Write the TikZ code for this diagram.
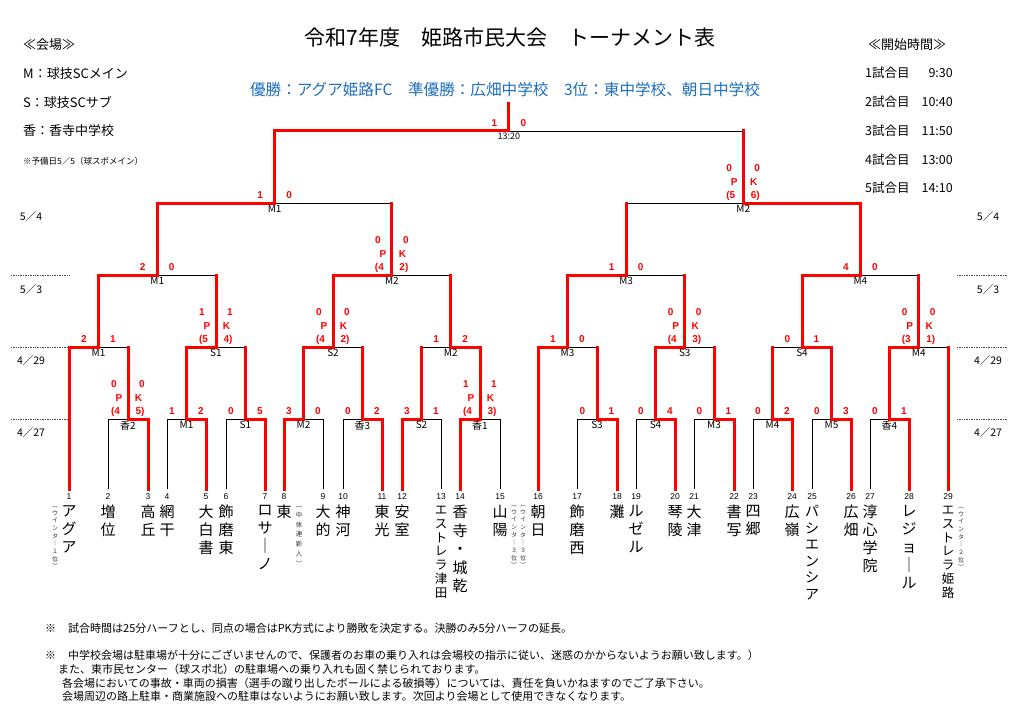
\documentclass[tikz,border=0pt]{standalone}
\usepackage{fontspec}
\setmainfont{Noto Sans CJK JP}
\newfontfamily\lat{Liberation Sans}
\usetikzlibrary{calc}
\definecolor{ttlblue}{RGB}{30,110,190}
\newcommand\mgame[5]{%
  \draw[thinl] (#2 |- #1) -- (#3 |- #1);
  \draw[#4] (#3) -- (#3 |- #1);
  \draw[winl] (#2) |- (#1);
  \node[mlab] (#1-lab) at ([yshift=-1pt]#1) {#5};}
\newcommand\scores[3]{%
  \node[scr] (#1-sl) at ([xshift=-14.5pt,yshift=7.5pt]#1) {#2};
  \node[scr] (#1-sr) at ([xshift=14.5pt,yshift=7.5pt]#1) {#3};}
\newcommand\pkscore[7]{%
  \node[scr] (#1-a) at ([xshift=-14pt,yshift=35pt]#1) {#2};
  \node[scr] (#1-b) at ([xshift=-9pt,yshift=21pt]#1) {#3};
  \node[scr] (#1-c) at ([xshift=-12.5pt,yshift=7.5pt]#1) {#4};
  \node[scr] (#1-d) at ([xshift=14pt,yshift=35pt]#1) {#5};
  \node[scr] (#1-e) at ([xshift=10.5pt,yshift=21pt]#1) {#6};
  \node[scr] (#1-f) at ([xshift=12pt,yshift=7.5pt]#1) {#7};}
\begin{document}
\begin{tikzpicture}[x=1pt,y=-1pt,
  thinl/.style={draw=black,line width=0.8pt},
  winl/.style={draw=red,line width=3pt,line cap=rect},
  mlab/.style={font=\fontsize{10}{11}\selectfont,inner sep=0.5pt,anchor=north},
  scr/.style={font=\lat\bfseries\fontsize{10}{11}\selectfont,text=red,inner sep=0pt},
  num/.style={font=\lat\fontsize{8.5}{9}\selectfont,inner sep=0pt},
  tname/.style={font=\fontsize{15}{18}\selectfont,align=center,inner sep=0pt,anchor=north},
  tnamel/.style={font=\fontsize{12.5}{13.8}\selectfont,align=center,inner sep=0pt,anchor=north},
  vnote/.style={font=\fontsize{6}{7.7}\selectfont,align=center,inner sep=0pt,anchor=north,text=black!80},
  legend/.style={font=\fontsize{13}{14}\selectfont,anchor=west,inner sep=0pt},
  tlegend/.style={font=\fontsize{12.5}{14}\selectfont,inner sep=0pt},
  datel/.style={font=\fontsize{10.5}{12}\selectfont,inner sep=0pt},
  foot/.style={font=\fontsize{11}{12}\selectfont,anchor=west,inner sep=0pt},
  sep/.style={densely dotted,draw=black!70,line width=0.7pt}]
\fill[white] (0,0) rectangle (1016,714);
\useasboundingbox (0,0) rectangle (1016,714);

% header
\node[font=\fontsize{21}{25}\selectfont,inner sep=0pt] (title) at (510,38) {令和7年度　姫路市民大会　トーナメント表};
\node[font=\fontsize{15.6}{18}\selectfont,text=ttlblue,inner sep=0pt] (champ) at (505,90) {優勝：アグア姫路FC　準優勝：広畑中学校　3位：東中学校、朝日中学校};

% left legend
\node[legend] (lg0) at (23,45) {≪会場≫};
\node[legend] (lg1) at (23,74) {M：球技SCメイン};
\node[legend] (lg2) at (23,102) {S：球技SCサブ};
\node[legend] (lg3) at (23,131) {香：香寺中学校};
\node[legend,font=\fontsize{8.5}{10}\selectfont] (lg4) at (23,161) {※予備日5／5（球スポメイン）};

% right legend
\node[tlegend,anchor=west,font=\fontsize{13}{14}\selectfont] (tl0) at (868,45) {≪開始時間≫};
\foreach \t/\h [count=\i] in {73/9:30,102/10:40,131/11:50,160/13:00,188/14:10}{
  \node[tlegend,anchor=west] (tg\i) at (865,\t) {{\i}試合目};
  \node[tlegend,anchor=east] (th\i) at (953,\t) {\h};
}

% dates and separators
\foreach \d/\t [count=\i] in {5／4/217,5／3/290,4／29/361,4／27/433}{
  \node[datel] (dl\i) at (31,\t) {\d};
  \node[datel] (dr\i) at (988,\t) {\d};
}
\foreach \t in {275,347,419}{
  \draw[sep] (11,\t) -- (70,\t);
  \draw[sep] (957,\t) -- (1007,\t);
}

% team positions
\foreach \x [count=\i] in {69,108,148,167,206,226,265,284,323,343,382,402,441,460,500,538,577,617,636,675,694,734,753,792,812,851,870,909,948}{
  \coordinate (b\i) at (\x,489);
  \node[num] (n\i) at (\x,497) {\i};
}

% match points
\coordinate (r1a) at (128,419);
\coordinate (r1b) at (186.5,419);
\coordinate (r1c) at (245.5,419);
\coordinate (r1d) at (303.5,419);
\coordinate (r1e) at (362.5,419);
\coordinate (r1f) at (421.5,419);
\coordinate (r1g) at (480,419);
\coordinate (r1h) at (597,419);
\coordinate (r1i) at (655.5,419);
\coordinate (r1j) at (714,419);
\coordinate (r1k) at (772.5,419);
\coordinate (r1l) at (831.5,419);
\coordinate (r1m) at (889.5,419);
\coordinate (r2a) at (98.5,347);
\coordinate (r2b) at (216,347);
\coordinate (r2c) at (333,347);
\coordinate (r2d) at (450.75,347);
\coordinate (r2e) at (567.5,347);
\coordinate (r2f) at (684.75,347);
\coordinate (r2g) at (802,347);
\coordinate (r2h) at (918.75,347);
\coordinate (r3a) at (157.25,275);
\coordinate (r3b) at (391.9,275);
\coordinate (r3c) at (626.1,275);
\coordinate (r3d) at (860.4,275);
\coordinate (r4a) at (274.6,203);
\coordinate (r4b) at (743.25,203);
\coordinate (fin) at (508.9,131);
\coordinate (fintop) at (508.9,104);

% round 1 (4/27)
\mgame{r1a}{b3}{b2}{thinl}{香2}  \pkscore{r1a}{0}{P}{(4}{0}{K}{5)}
\mgame{r1b}{b5}{b4}{thinl}{M1}   \scores{r1b}{1}{2}
\mgame{r1c}{b7}{b6}{thinl}{S1}   \scores{r1c}{0}{5}
\mgame{r1d}{b8}{b9}{thinl}{M2}   \scores{r1d}{3}{0}
\mgame{r1e}{b11}{b10}{thinl}{香3} \scores{r1e}{0}{2}
\mgame{r1f}{b12}{b13}{thinl}{S2} \scores{r1f}{3}{1}
\mgame{r1g}{b14}{b15}{thinl}{香1} \pkscore{r1g}{1}{P}{(4}{1}{K}{3)}
\mgame{r1h}{b18}{b17}{thinl}{S3} \scores{r1h}{0}{1}
\mgame{r1i}{b20}{b19}{thinl}{S4} \scores{r1i}{0}{4}
\mgame{r1j}{b22}{b21}{thinl}{M3} \scores{r1j}{0}{1}
\mgame{r1k}{b24}{b23}{thinl}{M4} \scores{r1k}{0}{2}
\mgame{r1l}{b26}{b25}{thinl}{M5} \scores{r1l}{0}{3}
\mgame{r1m}{b28}{b27}{thinl}{香4} \scores{r1m}{0}{1}

% round 2 (4/29)
\mgame{r2a}{b1}{r1a}{winl}{M1}   \scores{r2a}{2}{1}
\mgame{r2b}{r1b}{r1c}{winl}{S1}  \pkscore{r2b}{1}{P}{(5}{1}{K}{4)}
\mgame{r2c}{r1d}{r1e}{winl}{S2}  \pkscore{r2c}{0}{P}{(4}{0}{K}{2)}
\mgame{r2d}{r1g}{r1f}{winl}{M2}  \scores{r2d}{1}{2}
\mgame{r2e}{b16}{r1h}{winl}{M3}  \scores{r2e}{1}{0}
\mgame{r2f}{r1i}{r1j}{winl}{S3}  \pkscore{r2f}{0}{P}{(4}{0}{K}{3)}
\mgame{r2g}{r1l}{r1k}{winl}{S4}  \scores{r2g}{0}{1}
\mgame{r2h}{r1m}{b29}{winl}{M4}  \pkscore{r2h}{0}{P}{(3}{0}{K}{1)}

% round 3 (5/3)
\mgame{r3a}{r2a}{r2b}{winl}{M1}  \scores{r3a}{2}{0}
\mgame{r3b}{r2c}{r2d}{winl}{M2}  \pkscore{r3b}{0}{P}{(4}{0}{K}{2)}
\mgame{r3c}{r2e}{r2f}{winl}{M3}  \scores{r3c}{1}{0}
\mgame{r3d}{r2g}{r2h}{winl}{M4}  \scores{r3d}{4}{0}

% round 4 (5/4)
\mgame{r4a}{r3a}{r3b}{winl}{M1}  \scores{r4a}{1}{0}
\mgame{r4b}{r3d}{r3c}{winl}{M2}  \pkscore{r4b}{0}{P}{(5}{0}{K}{6)}

% final
\draw[thinl] (r4a |- fin) -- (r4b |- fin);
\draw[winl] (r4b) -- (r4b |- fin);
\draw[winl] (r4a) |- (fin);
\draw[winl] (fin) -- (fintop);
\node[mlab,font=\fontsize{9}{10}\selectfont] (fin-lab) at ([yshift=-1pt]fin) {13:20};
\scores{fin}{1}{0}

% team names
\node[tname] (t1) at (69,505) {ア\\グ\\ア};
\node[tname] (t2) at (108,505) {増\\位};
\node[tname] (t3) at (148,505) {高\\丘};
\node[tname] (t4) at (167,505) {網\\干};
\node[tname] (t5) at (206,505) {大\\白\\書};
\node[tname] (t6) at (226,505) {飾\\磨\\東};
\node[tname] (t7) at (265,505) {ロ\\サ\\｜\\ノ};
\node[tname] (t8) at (284,505) {東};
\node[tname] (t9) at (323,505) {大\\的};
\node[tname] (t10) at (343,505) {神\\河};
\node[tname] (t11) at (382,505) {東\\光};
\node[tname] (t12) at (402,505) {安\\室};
\node[tnamel] (t13) at (441,506) {エ\\ス\\ト\\レ\\ラ\\津\\田};
\node[tname,font=\fontsize{15}{18.5}\selectfont] (t14) at (460,505) {香\\寺\\・\\城\\乾};
\node[tname] (t15) at (500,505) {山\\陽};
\node[tname] (t16) at (538,505) {朝\\日};
\node[tname] (t17) at (577,505) {飾\\磨\\西};
\node[tname] (t18) at (617,505) {灘};
\node[tname] (t19) at (636,505) {ル\\ゼ\\ル};
\node[tname] (t20) at (675,505) {琴\\陵};
\node[tname] (t21) at (694,505) {大\\津};
\node[tname] (t22) at (734,505) {書\\写};
\node[tname] (t23) at (753,505) {四\\郷};
\node[tname] (t24) at (792,505) {広\\嶺};
\node[tname,font=\fontsize{14}{16.5}\selectfont] (t25) at (812,505) {パ\\シ\\エ\\ン\\シ\\ア};
\node[tname] (t26) at (851,505) {広\\畑};
\node[tname] (t27) at (870,505) {淳\\心\\学\\院};
\node[tname] (t28) at (909,505) {レ\\ジ\\ョ\\｜\\ル};
\node[tnamel] (t29) at (948,506) {エ\\ス\\ト\\レ\\ラ\\姫\\路};

% small notes
\node[vnote] (nt1) at (55,506) {︵\\ウ\\イ\\ン\\タ\\｜\\１\\位\\︶};
\node[vnote,font=\fontsize{6.5}{9.8}\selectfont] (nt8) at (299,506) {︵\\中\\体\\連\\新\\人\\︶};
\node[vnote] (nt15) at (514,505) {︵\\ウ\\イ\\ン\\タ\\｜\\３\\位\\︶};
\node[vnote] (nt16) at (523,505) {︵\\ウ\\イ\\ン\\タ\\｜\\３\\位\\︶};
\node[vnote] (nt29) at (961,507) {︵\\ウ\\イ\\ン\\タ\\｜\\２\\位\\︶};

% footer
\node[foot] (f1a) at (45,628) {※};
\node[foot] (f1) at (68,628) {試合時間は25分ハーフとし、同点の場合はPK方式により勝敗を決定する。決勝のみ5分ハーフの延長。};
\node[foot] (f2a) at (45,655) {※};
\node[foot] (f2) at (68,655) {中学校会場は駐車場が十分にございませんので、保護者のお車の乗り入れは会場校の指示に従い、迷惑のかからないようお願い致します。）};
\node[foot] (f3) at (58,669) {また、東市民センター（球スポ北）の駐車場への乗り入れも固く禁じられております。};
\node[foot] (f4) at (62,683) {各会場においての事故・車両の損害（選手の蹴り出したボールによる破損等）については、責任を負いかねますのでご了承下さい。};
\node[foot] (f5) at (62,696) {会場周辺の路上駐車・商業施設への駐車はないようにお願い致します。次回より会場として使用できなくなります。};
\end{tikzpicture}
\end{document}
